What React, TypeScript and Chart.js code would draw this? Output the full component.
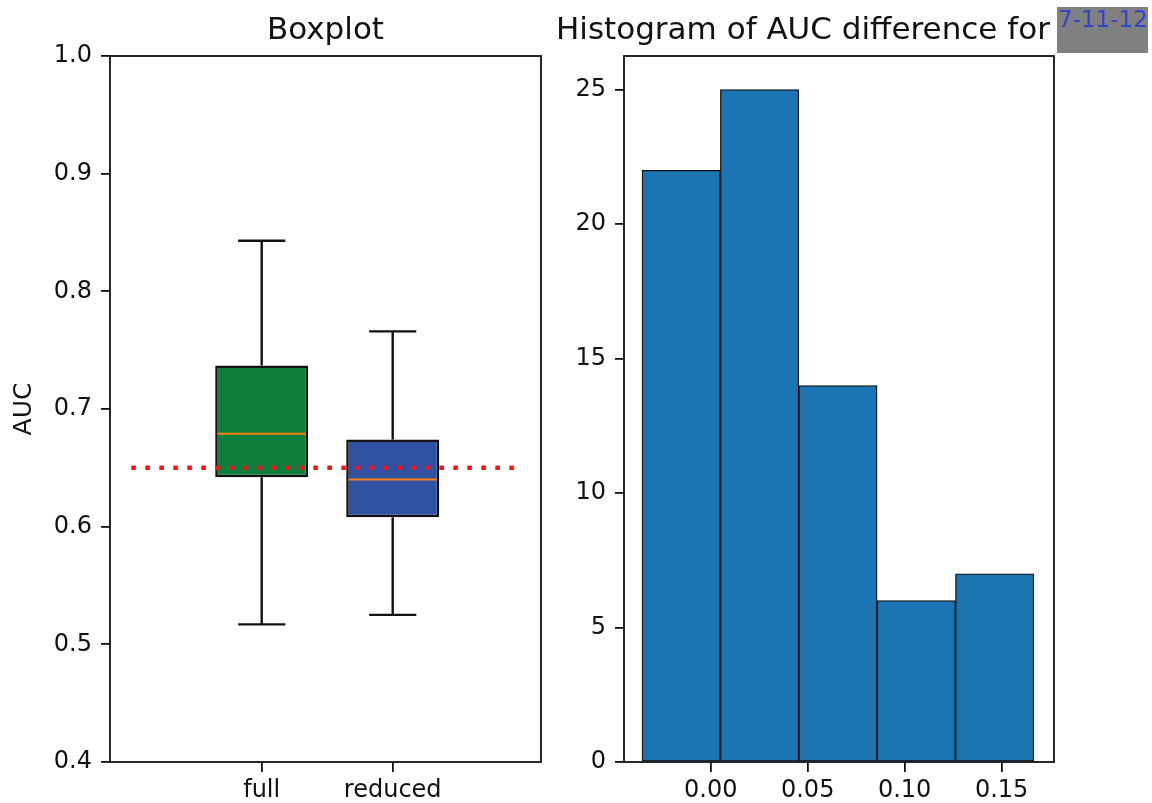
import React, { useEffect, useRef } from 'react';
import { Chart, registerables } from 'chart.js';

Chart.register(...registerables);

// ---------- Data ----------
const CATEGORIES = ['full', 'reduced'];
const POSITIONS = [1, 2];
const WHISKER_LOW = [0.517, 0.525];
const Q1 = [0.642, 0.608];
const MEDIAN = [0.679, 0.64];
const Q3 = [0.737, 0.674];
const WHISKER_HIGH = [0.843, 0.766];
const REFERENCE_AUC = 0.65;
const REFERENCE_X = [0.005, 2.965];
const AUC_TICKS = [0.4, 0.5, 0.6, 0.7, 0.8, 0.9, 1.0];

const BIN_EDGES = [-0.0354, 0.005, 0.0454, 0.0858, 0.1262, 0.1666];
const COUNTS = [22, 25, 14, 6, 7];
const HIST_X_TICKS = [0, 0.05, 0.1, 0.15];
const HIST_Y_TICKS = [0, 5, 10, 15, 20, 25];

// ---------- Style ----------
const FONT = "'DejaVu Sans', sans-serif";
const BOX_FILLS = ['#0f7d3b', '#3050a2'];
const CAP_HALF = 0.18;

Chart.defaults.font.family = FONT;
Chart.defaults.color = '#000';

const framePlugin = {
  id: 'frame',
  afterDraw(chart: any) {
    const { ctx, chartArea: a } = chart;
    ctx.save();
    ctx.strokeStyle = '#111';
    ctx.lineWidth = 1.8;
    ctx.strokeRect(a.left, a.top, a.right - a.left, a.bottom - a.top);
    ctx.restore();
  },
};

const boxPartsPlugin = {
  id: 'boxParts',
  afterDatasetsDraw(chart: any) {
    const xs = chart.scales.x;
    const ys = chart.scales.y;
    const ctx = chart.ctx;
    const meta = chart.getDatasetMeta(1);
    const seg = (x1: number, y1: number, x2: number, y2: number) => {
      ctx.beginPath();
      ctx.moveTo(x1, y1);
      ctx.lineTo(x2, y2);
      ctx.stroke();
    };
    ctx.save();
    POSITIONS.forEach((p, i) => {
      const cx = xs.getPixelForValue(p);
      const cl = xs.getPixelForValue(p - CAP_HALF);
      const cr = xs.getPixelForValue(p + CAP_HALF);
      const yHi = ys.getPixelForValue(WHISKER_HIGH[i]);
      const yLo = ys.getPixelForValue(WHISKER_LOW[i]);
      const yQ3 = ys.getPixelForValue(Q3[i]);
      const yQ1 = ys.getPixelForValue(Q1[i]);
      ctx.strokeStyle = '#111';
      ctx.lineWidth = 2.4;
      seg(cx, yQ3, cx, yHi);
      seg(cx, yQ1, cx, yLo);
      seg(cl, yHi, cr, yHi);
      seg(cl, yLo, cr, yLo);
      const el = meta.data[i];
      const half = el.width / 2 - 2.5;
      const ym = ys.getPixelForValue(MEDIAN[i]);
      ctx.strokeStyle = '#ff7f0e';
      ctx.lineWidth = 2;
      seg(el.x - half, ym, el.x + half, ym);
    });
    ctx.restore();
  },
};

const tickFont = { size: 24, family: FONT };
const gridOpts = (len: number) => ({
  display: true,
  drawOnChartArea: false,
  drawTicks: true,
  tickLength: len,
  color: '#111',
  lineWidth: 1.8,
  offset: false,
});

function BoxChart() {
  const ref = useRef<HTMLCanvasElement | null>(null);
  useEffect(() => {
    if (!ref.current) return;
    const chart = new Chart(ref.current, {
      type: 'bar',
      data: {
        datasets: [
          {
            type: 'line',
            data: REFERENCE_X.map((x) => ({ x, y: REFERENCE_AUC })),
            borderColor: '#ff1010',
            borderWidth: 4.5,
            borderDash: [4.5, 9.5],
            pointRadius: 0,
            fill: false,
            order: 0,
          } as any,
          {
            type: 'bar',
            data: POSITIONS.map((p, i) => ({ x: p, y: [Q1[i], Q3[i]] })),
            backgroundColor: BOX_FILLS,
            borderColor: '#111',
            borderWidth: 2.5,
            borderSkipped: false,
            barPercentage: 0.71,
            categoryPercentage: 1,
            order: 1,
          } as any,
        ],
      },
      options: {
        animation: false,
        responsive: false,
        layout: { padding: { top: 56, right: 29, left: 0, bottom: 0 } },
        plugins: {
          legend: { display: false },
          tooltip: { enabled: false },
          title: { display: false },
        },
        scales: {
          x: {
            type: 'linear',
            offset: false,
            min: -0.158,
            max: 3.132,
            afterBuildTicks: (s: any) => {
              s.ticks = POSITIONS.map((v) => ({ value: v }));
            },
            afterFit: (s: any) => {
              s.height = 41;
            },
            ticks: {
              callback: (_v: any, i: number) => CATEGORIES[i],
              font: tickFont,
              color: '#111',
              padding: 4,
              maxRotation: 0,
              autoSkip: false,
            },
            grid: gridOpts(10),
            border: { display: false },
          },
          y: {
            type: 'linear',
            min: 0.4,
            max: 1.0,
            afterBuildTicks: (s: any) => {
              s.ticks = AUC_TICKS.map((v) => ({ value: v }));
            },
            afterFit: (s: any) => {
              s.width = 110;
            },
            ticks: {
              callback: (v: any) => Number(v).toFixed(1),
              font: tickFont,
              color: '#111',
              padding: 9,
            },
            grid: gridOpts(9),
            border: { display: false },
            title: {
              display: true,
              text: 'AUC',
              font: { size: 25, family: FONT },
              color: '#111',
              padding: { top: 9, bottom: 0 },
            },
          },
        },
      } as any,
      plugins: [framePlugin, boxPartsPlugin],
    });
    return () => chart.destroy();
  }, []);
  return (
    <canvas
      ref={ref}
      width={570}
      height={803}
      style={{ position: 'absolute', left: 0, top: 0, width: 570, height: 803, display: 'block' }}
    />
  );
}

function HistChart() {
  const ref = useRef<HTMLCanvasElement | null>(null);
  useEffect(() => {
    if (!ref.current) return;
    const centers = COUNTS.map((_, i) => (BIN_EDGES[i] + BIN_EDGES[i + 1]) / 2);
    const chart = new Chart(ref.current, {
      type: 'bar',
      data: {
        datasets: [
          {
            data: centers.map((c, i) => ({ x: c, y: COUNTS[i] })),
            backgroundColor: '#1c74b3',
            borderColor: '#111',
            borderWidth: 1.3,
            borderSkipped: false,
            barPercentage: 1,
            categoryPercentage: 1,
          } as any,
        ],
      },
      options: {
        animation: false,
        responsive: false,
        layout: { padding: { top: 56, right: 98, left: 0, bottom: 0 } },
        plugins: {
          legend: { display: false },
          tooltip: { enabled: false },
          title: { display: false },
        },
        scales: {
          x: {
            type: 'linear',
            offset: false,
            min: -0.0447,
            max: 0.177,
            afterBuildTicks: (s: any) => {
              s.ticks = HIST_X_TICKS.map((v) => ({ value: v }));
            },
            afterFit: (s: any) => {
              s.height = 41;
            },
            ticks: {
              callback: (v: any) => Number(v).toFixed(2),
              font: tickFont,
              color: '#111',
              padding: 4,
              maxRotation: 0,
              autoSkip: false,
            },
            grid: gridOpts(10),
            border: { display: false },
          },
          y: {
            type: 'linear',
            min: 0,
            max: 26.25,
            afterBuildTicks: (s: any) => {
              s.ticks = HIST_Y_TICKS.map((v) => ({ value: v }));
            },
            afterFit: (s: any) => {
              s.width = 54;
            },
            ticks: {
              callback: (v: any) => String(v),
              font: tickFont,
              color: '#111',
              padding: 9,
            },
            grid: gridOpts(9),
            border: { display: false },
          },
        },
      } as any,
      plugins: [framePlugin],
    });
    return () => chart.destroy();
  }, []);
  return (
    <canvas
      ref={ref}
      width={582}
      height={803}
      style={{ position: 'absolute', left: 570, top: 0, width: 582, height: 803, display: 'block' }}
    />
  );
}

export default function App() {
  const titleStyle: React.CSSProperties = {
    position: 'absolute',
    top: 13,
    fontFamily: FONT,
    fontSize: 31,
    lineHeight: '31px',
    color: '#111',
    whiteSpace: 'nowrap',
  };
  return (
    <div style={{ position: 'absolute', left: 0, top: 0, width: 1152, height: 803, background: '#fff', overflow: 'hidden' }}>
      <BoxChart />
      <HistChart />
      <div style={{ ...titleStyle, left: 110, width: 431, textAlign: 'center' }}>Boxplot</div>
      <div style={{ ...titleStyle, left: 556 }}>Histogram of AUC difference for</div>
      <div
        style={{
          position: 'absolute',
          left: 1057,
          top: 7,
          width: 91,
          height: 46,
          background: '#808080',
        }}
      >
        <span
          style={{
            position: 'absolute',
            left: 1,
            top: 1,
            fontFamily: FONT,
            fontSize: 23,
            lineHeight: '23px',
            color: '#3344cc',
            whiteSpace: 'nowrap',
          }}
        >
          7-11-12
        </span>
      </div>
    </div>
  );
}
